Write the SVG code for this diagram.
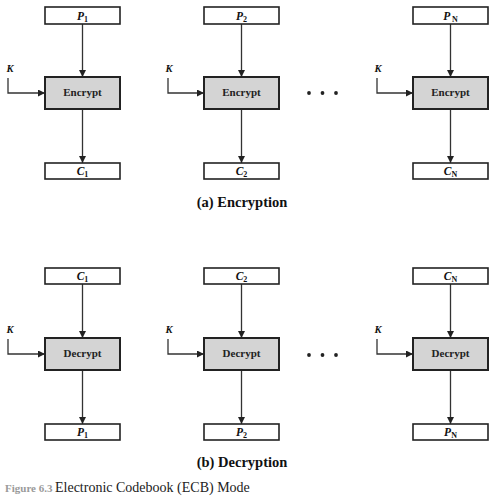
<svg xmlns="http://www.w3.org/2000/svg" width="497" height="500" viewBox="0 0 497 500">
<style>
.io{fill:#fff;stroke:#222;stroke-width:1.6}
.op{fill:#d4d4d4;stroke:#222;stroke-width:2}
.ln{fill:none;stroke:#333;stroke-width:1.3}
.lbl{font-family:"Liberation Serif",serif;font-weight:bold;font-style:italic;font-size:11.5px;fill:#111;text-anchor:middle}
.sub{font-size:8px;font-style:normal}
.opt{font-family:"Liberation Serif",serif;font-weight:bold;font-size:11px;fill:#222;text-anchor:middle}
.k{font-family:"Liberation Serif",serif;font-weight:bold;font-style:italic;font-size:10.5px;fill:#111;text-anchor:middle}
.sec{font-family:"Liberation Serif",serif;font-weight:bold;font-size:14.5px;fill:#111;text-anchor:middle}
.dot{fill:#222}
.fig{font-family:"Liberation Serif",serif;font-weight:bold;font-size:11px;fill:#9a9a9a}
.cap{font-family:"Liberation Serif",serif;font-size:14px;fill:#222}
</style>
<defs>
<marker id="ah" viewBox="0 0 10 10" refX="10" refY="5" markerWidth="7" markerHeight="7" markerUnits="userSpaceOnUse" orient="auto">
<path d="M0,0 L10,5 L0,10 z" fill="#222"/>
</marker>
</defs>

<g id="connectors">
<path class="ln" d="M82.5,24 V77" marker-end="url(#ah)"/>
<path class="ln" d="M82.5,109 V163" marker-end="url(#ah)"/>
<path class="ln" d="M8,78 V93 H45" marker-end="url(#ah)"/>
<path class="ln" d="M241.5,24 V77" marker-end="url(#ah)"/>
<path class="ln" d="M241.5,109 V163" marker-end="url(#ah)"/>
<path class="ln" d="M168,78 V93 H204" marker-end="url(#ah)"/>
<path class="ln" d="M450.5,24 V77" marker-end="url(#ah)"/>
<path class="ln" d="M450.5,109 V163" marker-end="url(#ah)"/>
<path class="ln" d="M377,78 V93 H413" marker-end="url(#ah)"/>
<path class="ln" d="M82.5,284 V338" marker-end="url(#ah)"/>
<path class="ln" d="M82.5,370 V424" marker-end="url(#ah)"/>
<path class="ln" d="M8,339 V354 H45" marker-end="url(#ah)"/>
<path class="ln" d="M241.5,284 V338" marker-end="url(#ah)"/>
<path class="ln" d="M241.5,370 V424" marker-end="url(#ah)"/>
<path class="ln" d="M168,339 V354 H204" marker-end="url(#ah)"/>
<path class="ln" d="M450.5,284 V338" marker-end="url(#ah)"/>
<path class="ln" d="M450.5,370 V424" marker-end="url(#ah)"/>
<path class="ln" d="M377,339 V354 H413" marker-end="url(#ah)"/>
</g>

<g id="p1"><rect class="io" x="45" y="7" width="75" height="17"/><text class="lbl" x="82.5" y="19.5">P<tspan class="sub" dy="2">1</tspan></text></g>
<g id="p2"><rect class="io" x="204" y="7" width="75" height="17"/><text class="lbl" x="241.5" y="19.5">P<tspan class="sub" dy="2">2</tspan></text></g>
<g id="pn"><rect class="io" x="413" y="7" width="75" height="17"/><text class="lbl" x="450.5" y="19.5">P<tspan class="sub" dx="1.5" dy="2" font-style="italic">N</tspan></text></g>

<g id="enc1"><rect class="op" x="45" y="77" width="75" height="32"/><text class="opt" x="82.5" y="96">Encrypt</text></g>
<g id="enc2"><rect class="op" x="204" y="77" width="75" height="32"/><text class="opt" x="241.5" y="96">Encrypt</text></g>
<g id="encn"><rect class="op" x="413" y="77" width="75" height="32"/><text class="opt" x="450.5" y="96">Encrypt</text></g>

<g id="k1e"><text class="k" x="10" y="72">K</text></g>
<g id="k2e"><text class="k" x="169" y="72">K</text></g>
<g id="kne"><text class="k" x="378" y="72">K</text></g>

<g id="c1"><rect class="io" x="45" y="163" width="75" height="16"/><text class="lbl" x="82.5" y="175">C<tspan class="sub" dy="2">1</tspan></text></g>
<g id="c2"><rect class="io" x="204" y="163" width="75" height="16"/><text class="lbl" x="241.5" y="175">C<tspan class="sub" dy="2">2</tspan></text></g>
<g id="cn"><rect class="io" x="413" y="163" width="75" height="16"/><text class="lbl" x="450.5" y="175">C<tspan class="sub" dy="2" font-style="italic">N</tspan></text></g>

<g id="dots-enc"><circle class="dot" cx="309" cy="93" r="1.9"/><circle class="dot" cx="322.5" cy="93" r="1.9"/><circle class="dot" cx="336" cy="93" r="1.9"/></g>

<text class="sec" x="242" y="207">(a) Encryption</text>

<g id="dc1"><rect class="io" x="45" y="268" width="75" height="16"/><text class="lbl" x="82.5" y="280">C<tspan class="sub" dy="2">1</tspan></text></g>
<g id="dc2"><rect class="io" x="204" y="268" width="75" height="16"/><text class="lbl" x="241.5" y="280">C<tspan class="sub" dy="2">2</tspan></text></g>
<g id="dcn"><rect class="io" x="413" y="268" width="75" height="16"/><text class="lbl" x="450.5" y="280">C<tspan class="sub" dy="2" font-style="italic">N</tspan></text></g>

<g id="dec1"><rect class="op" x="45" y="338" width="75" height="32"/><text class="opt" x="82.5" y="357">Decrypt</text></g>
<g id="dec2"><rect class="op" x="204" y="338" width="75" height="32"/><text class="opt" x="241.5" y="357">Decrypt</text></g>
<g id="decn"><rect class="op" x="413" y="338" width="75" height="32"/><text class="opt" x="450.5" y="357">Decrypt</text></g>

<g id="k1d"><text class="k" x="10" y="333">K</text></g>
<g id="k2d"><text class="k" x="169" y="333">K</text></g>
<g id="knd"><text class="k" x="378" y="333">K</text></g>

<g id="dp1"><rect class="io" x="45" y="424" width="75" height="16"/><text class="lbl" x="82.5" y="436">P<tspan class="sub" dy="2">1</tspan></text></g>
<g id="dp2"><rect class="io" x="204" y="424" width="75" height="16"/><text class="lbl" x="241.5" y="436">P<tspan class="sub" dy="2">2</tspan></text></g>
<g id="dpn"><rect class="io" x="413" y="424" width="75" height="16"/><text class="lbl" x="450.5" y="436">P<tspan class="sub" dy="2" font-style="italic">N</tspan></text></g>

<g id="dots-dec"><circle class="dot" cx="309" cy="355" r="1.9"/><circle class="dot" cx="322.5" cy="355" r="1.9"/><circle class="dot" cx="336" cy="355" r="1.9"/></g>

<text class="sec" x="242" y="467">(b) Decryption</text>

<text class="fig" x="5" y="492">Figure 6.3</text>
<text class="cap" x="55" y="492">Electronic Codebook (ECB) Mode</text>
</svg>
